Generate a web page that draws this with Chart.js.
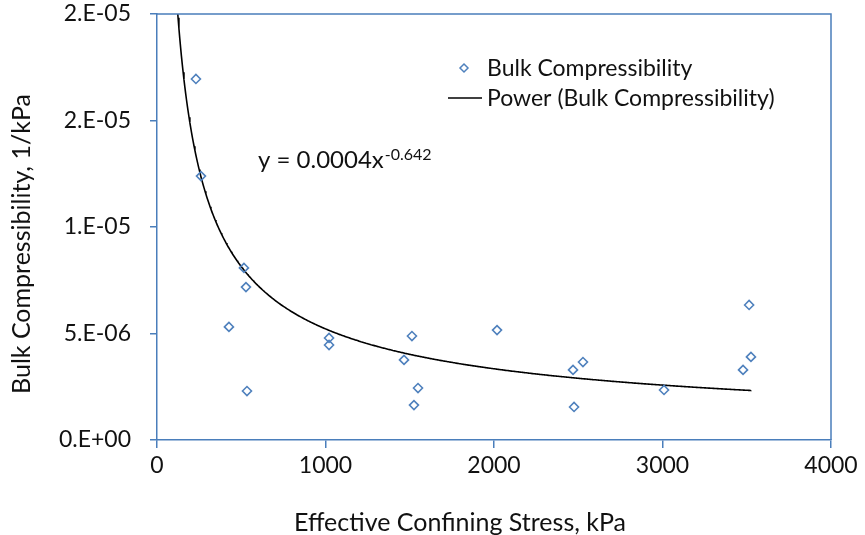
<!DOCTYPE html>
<html>
<head>
<meta charset="utf-8">
<script src="https://cdn.jsdelivr.net/npm/chart.js@4/dist/chart.umd.min.js"></script>
<style>
  html, body { margin: 0; padding: 0; background: #fff; }
  #wrap { width: 865px; height: 535px; }
</style>
</head>
<body>
<div id="wrap"><canvas id="mygra" width="865" height="535"></canvas></div>
<script>
// measured points, effective confining stress (kPa) vs bulk compressibility (1/kPa)
const stress = [231, 261, 516, 528, 427, 534, 1021, 1021, 1466, 1513, 1549, 1525, 2018, 2469, 2528, 2475, 3009, 3514, 3525, 3478];
const compressibility = [1.695e-5, 1.239e-5, 8.08e-6, 7.18e-6, 5.31e-6, 2.30e-6, 4.79e-6, 4.46e-6, 3.76e-6, 4.88e-6,
    2.44e-6, 1.64e-6, 5.16e-6, 3.29e-6, 3.66e-6, 1.55e-6, 2.35e-6, 6.34e-6, 3.90e-6, 3.29e-6];

// power trendline y = a * x^b (label shows a rounded to 0.0004)
const trendA = 0.00044;
const trendB = -0.642;
const trendFrom = 100;
const trendTo = 3525;

const xTicks = [0, 1000, 2000, 3000, 4000];
const xTickLabels = ['0', '1000', '2000', '3000', '4000'];
const yTicks = [0, 5e-6, 1e-5, 1.5e-5, 2e-5];
const yTickLabels = ['0.E+00', '5.E-06', '1.E-05', '2.E-05', '2.E-05'];

const FONT = 'Lato';
const BLUE = '#4a7ebb';
const MARK = '#4f81bd';
const TXT = '#111';

function trendPoints() {
    let pts = [];
    for (let x = trendFrom; x <= trendTo; x += 5) {
        pts.push({x: x, y: trendA * Math.pow(x, trendB)});
    }
    return pts;
}

const decor = {
    id: 'decor',
    afterDraw(chart) {
        const ctx = chart.ctx;
        const a = chart.chartArea;
        ctx.save();
        // top + right frame
        ctx.strokeStyle = BLUE;
        ctx.lineWidth = 1.5;
        ctx.beginPath();
        ctx.moveTo(a.left, a.top);
        ctx.lineTo(a.right, a.top);
        ctx.lineTo(a.right, a.bottom);
        ctx.stroke();

        ctx.fillStyle = TXT;
        ctx.font = '23px ' + FONT;
        ctx.textBaseline = 'alphabetic';
        ctx.textAlign = 'left';

        // legend
        ctx.strokeStyle = MARK;
        ctx.lineWidth = 1.5;
        ctx.beginPath();
        ctx.moveTo(464, 64); ctx.lineTo(468, 68); ctx.lineTo(464, 72); ctx.lineTo(460, 68); ctx.closePath();
        ctx.stroke();
        ctx.fillText('Bulk Compressibility', 487, 76);
        ctx.strokeStyle = '#000';
        ctx.beginPath();
        ctx.moveTo(448, 98); ctx.lineTo(482, 98);
        ctx.stroke();
        ctx.fillText('Power (Bulk Compressibility)', 487, 106);

        // equation
        ctx.font = '24px ' + FONT;
        ctx.fillText('y = 0.0004x', 258, 168);
        let w = ctx.measureText('y = 0.0004x').width;
        ctx.font = '16px ' + FONT;
        ctx.fillText('-0.642', 258 + w + 1, 160);

        // axis titles
        ctx.font = '25px ' + FONT;
        ctx.textAlign = 'center';
        ctx.fillText('Effective Confining Stress, kPa', 460, 531);
        ctx.translate(22, 244);
        ctx.rotate(-Math.PI / 2);
        ctx.textBaseline = 'middle';
        ctx.fillText('Bulk Compressibility, 1/kPa', 0, 0);
        ctx.restore();
    }
};

function DataG() {
    const data = {
        datasets: [{
            label: 'Bulk Compressibility',
            data: stress.map((x, i) => ({x: x, y: compressibility[i]})),
            pointStyle: 'rectRot',
            pointRadius: 4.5,
            pointBorderWidth: 1.6,
            pointBorderColor: MARK,
            pointBackgroundColor: 'rgba(255,255,255,0)',
            showLine: false,
        }, {
            label: 'Power (Bulk Compressibility)',
            data: trendPoints(),
            showLine: true,
            borderColor: '#000',
            borderWidth: 1.6,
            pointRadius: 0,
            tension: 0,
        }]
    };

    const config = {
        type: 'scatter',
        data: data,
        options: {
            responsive: false,
            animation: false,
            layout: { padding: { left: 0, right: 34, top: 14, bottom: 0 } },
            plugins: { legend: { display: false }, tooltip: { enabled: false } },
            scales: {
                x: {
                    type: 'linear', min: 0, max: 4000,
                    afterBuildTicks: s => { s.ticks = xTicks.map(v => ({value: v})); },
                    afterFit: s => { s.height = 95; s.paddingLeft = 0; s.paddingRight = 0; },
                    grid: { drawOnChartArea: false, tickLength: 8, color: BLUE, lineWidth: 1.5 },
                    border: { color: BLUE, width: 1.5 },
                    ticks: {
                        color: TXT, font: { family: FONT, size: 23 }, padding: 4, maxRotation: 0,
                        callback: (v, i) => xTickLabels[i]
                    }
                },
                y: {
                    type: 'linear', min: 0, max: 2e-5,
                    afterBuildTicks: s => { s.ticks = yTicks.map(v => ({value: v})); },
                    afterFit: s => { s.width = 157; s.paddingTop = 0; s.paddingBottom = 0; },
                    grid: { drawOnChartArea: false, tickLength: 7, color: BLUE, lineWidth: 1.5 },
                    border: { color: BLUE, width: 1.5 },
                    ticks: {
                        color: TXT, font: { family: FONT, size: 23 }, padding: 19,
                        callback: (v, i) => yTickLabels[i]
                    }
                }
            }
        },
        plugins: [decor]
    };

    var ctx = document.getElementById('mygra').getContext('2d');
    window.myChart = new Chart(ctx, config);
}

window.onload = function() {
    DataG();
};
</script>
</body>
</html>
